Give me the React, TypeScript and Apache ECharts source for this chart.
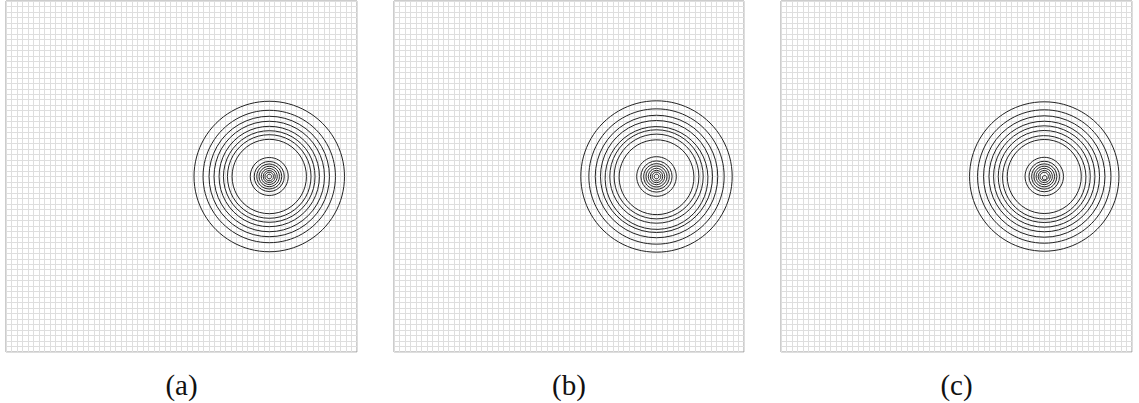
import React, { useEffect, useRef } from "react";
import * as echarts from "echarts";

// Panel captions
const panelLabels = ["(a)", "(b)", "(c)"];

// Grid extent (cells per side)
const gridMin = 0;
const gridMax = 64;

// Contour centre for each panel, in grid units
const centersA = [48, 32];
const centersB = [48, 32];
const centersC = [48, 32];

// Outer band of contour radii, in grid units
const outerRadiiA = [13.72, 12.07, 10.98, 10.07, 9.15, 8.35, 7.62, 6.78];
const outerRadiiB = [13.84, 12.37, 11.2, 10.24, 9.4, 8.54, 7.75, 6.84];
const outerRadiiC = [13.62, 12.16, 11.07, 10.08, 9.24, 8.39, 7.6, 6.75];

// Inner band of contour radii, in grid units
const innerRadiiA = [3.46, 2.74, 2.28, 1.86, 1.46, 1.09, 0.77, 0.42];
const innerRadiiB = [3.62, 2.85, 2.35, 1.92, 1.5, 1.12, 0.78, 0.42];
const innerRadiiC = [3.5, 2.78, 2.3, 1.88, 1.48, 1.1, 0.76, 0.4];

const panels = [
  { left: 6, width: 351, center: centersA, radii: [...outerRadiiA, ...innerRadiiA] },
  { left: 394, width: 350, center: centersB, radii: [...outerRadiiB, ...innerRadiiB] },
  { left: 781, width: 351, center: centersC, radii: [...outerRadiiC, ...innerRadiiC] },
];

export default function App() {
  const ref = useRef<HTMLDivElement>(null);

  useEffect(() => {
    if (!ref.current) return;
    const chart = echarts.init(ref.current, null, { renderer: "svg" });

    const grids = panels.map((p) => ({
      left: p.left,
      top: 1,
      width: p.width,
      height: 351,
      show: true,
      borderColor: "#9a9a9a",
      borderWidth: 1,
      backgroundColor: "#fff",
    }));

    const axisCommon = {
      type: "value" as const,
      min: gridMin,
      max: gridMax,
      interval: 1,
      axisLine: { show: false },
      axisTick: { show: false },
      axisLabel: { show: false },
      splitLine: { show: true, lineStyle: { color: "#dedede", width: 1 } },
    };

    const xAxes = panels.map((_, i) => ({ ...axisCommon, gridIndex: i }));
    const yAxes = panels.map((_, i) => ({ ...axisCommon, gridIndex: i }));

    const series = panels.map((p, i) => ({
      type: "custom" as const,
      xAxisIndex: i,
      yAxisIndex: i,
      silent: true,
      data: p.radii.map((r) => [p.center[0], p.center[1], r]),
      renderItem: (_params: any, api: any) => {
        const c = api.coord([api.value(0), api.value(1)]);
        const s = api.size([api.value(2), api.value(2)]);
        return {
          type: "circle",
          shape: { cx: c[0], cy: c[1], r: s[0] },
          style: { fill: "none", stroke: "#222", lineWidth: 1 },
        };
      },
    }));

    const labels = panels.map((p, i) => ({
      type: "text",
      x: p.left + p.width / 2,
      y: 385,
      style: {
        text: panelLabels[i],
        font: '29px "Liberation Serif", serif',
        fill: "#111",
        align: "center",
        verticalAlign: "middle",
      },
    }));

    chart.setOption({
      animation: false,
      backgroundColor: "#fff",
      grid: grids,
      xAxis: xAxes,
      yAxis: yAxes,
      series,
      graphic: labels,
    });

    return () => chart.dispose();
  }, []);

  return (
    <div
      ref={ref}
      style={{ position: "fixed", left: 0, top: 0, width: 1139, height: 403 }}
    />
  );
}
